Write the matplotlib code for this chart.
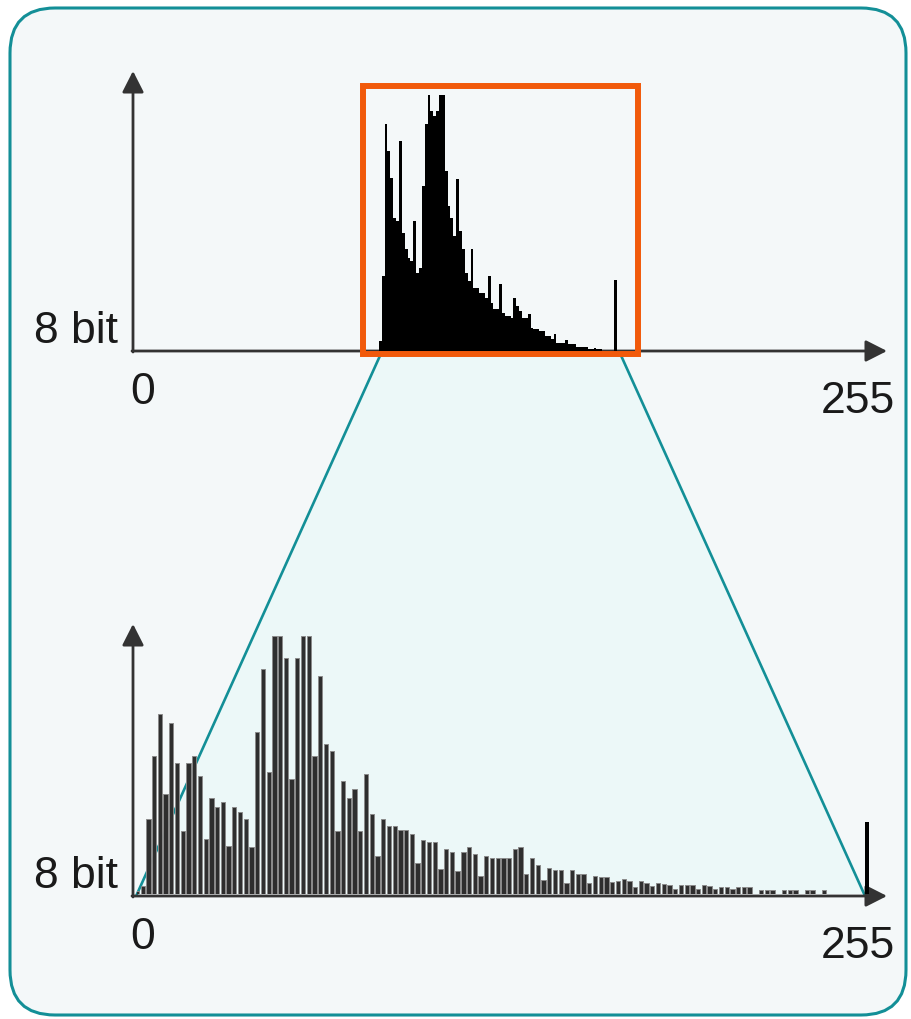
import numpy as np
import matplotlib
matplotlib.use("Agg")
import matplotlib.pyplot as plt
from matplotlib.patches import FancyBboxPatch, Rectangle, Polygon

plt.rcParams['font.family'] = ['Liberation Sans', 'DejaVu Sans']

# 8-bit histogram before stretching: counts for grey levels 85..167
top_start = 85
top_counts = [10, 75, 227, 200, 173, 133, 130, 210, 118, 102,
              93, 90, 130, 78, 83, 165, 227, 256, 240, 235,
              240, 256, 256, 180, 145, 133, 115, 172, 120, 102,
              78, 70, 102, 63, 63, 58, 58, 53, 75, 48,
              42, 42, 67, 38, 35, 35, 33, 53, 45, 40,
              33, 33, 37, 23, 22, 22, 20, 20, 15, 15,
              12, 17, 8, 8, 8, 11, 7, 7, 7, 4,
              4, 4, 4, 2, 2, 3, 2, 2, 0, 0,
              0, 0, 71]

# stretch range shown by the box / funnel
stretch_lo, stretch_hi = 85, 169
box_lo, box_hi = 79, 175

# stretched histogram: every second grey level 0, 2, ... 240, plus 255
bottom_counts = [3, 8, 75, 138, 180, 100, 171, 131, 63, 131,
                 138, 118, 55, 96, 87, 92, 48, 87, 82, 75,
                 47, 162, 225, 122, 258, 258, 236, 115, 236, 258,
                 258, 138, 218, 150, 143, 63, 113, 96, 105, 63,
                 120, 80, 38, 75, 68, 68, 64, 64, 60, 31,
                 54, 52, 52, 25, 45, 42, 23, 42, 47, 40,
                 18, 38, 36, 36, 36, 36, 45, 47, 20, 36,
                 29, 14, 26, 24, 24, 11, 24, 20, 20, 11,
                 18, 17, 17, 12, 13, 15, 13, 7, 13, 11,
                 8, 11, 10, 9, 5, 9, 9, 9, 5, 9,
                 8, 5, 7, 7, 5, 7, 7, 7, 0, 4,
                 4, 4, 0, 4, 4, 4, 0, 4, 4, 0,
                 4]
bottom_last = 72

W, H = 911, 1020
fig = plt.figure(figsize=(W / 100, H / 100), dpi=100)
fig.patch.set_facecolor('white')

bg = fig.add_axes([0, 0, 1, 1])
bg.set_xlim(0, W)
bg.set_ylim(H, 0)
bg.axis('off')

teal = '#138F97'
ink = '#333333'
txt = '#1a1a1a'

frame = FancyBboxPatch((10, 9), 896, 1007, boxstyle='round,pad=0,rounding_size=45',
                       facecolor='#F4F8F9', edgecolor=teal, lw=2.2, zorder=0)
bg.add_patch(frame)


def hist_axes(base_px, height_px):
    ax = fig.add_axes([137 / W, (H - base_px) / H, 730 / W, height_px / H])
    ax.set_xlim(0, 255)
    ax.set_ylim(0, height_px)
    ax.axis('off')
    ax.patch.set_alpha(0)
    return ax


ax1 = hist_axes(352, 280)
ax2 = hist_axes(895, 270)

# funnel from the stretch range down to the full range
def to_bg(ax, x, y):
    p = ax.transData.transform((x, y))
    return bg.transData.inverted().transform(p)

corners = [to_bg(ax1, stretch_lo, -4), to_bg(ax1, stretch_hi, -4),
           to_bg(ax2, 254, 0), to_bg(ax2, 0, 0)]
bg.add_patch(Polygon(corners, closed=True, facecolor='#ECF8F8', edgecolor='none', zorder=1))
for a, b in [(corners[0], corners[3]), (corners[1], corners[2])]:
    bg.plot([a[0], b[0]], [a[1], b[1]], color=teal, lw=1.9, zorder=2)

# top histogram
lv_top = np.arange(top_start, top_start + len(top_counts))
ax1.bar(lv_top, top_counts, width=1.0, color='black', linewidth=0, zorder=3)
ax1.add_patch(Rectangle((box_lo, -3), box_hi - box_lo, 268.5, fill=False,
                        edgecolor='#F15A0B', lw=4.3, clip_on=False, zorder=5))

# bottom histogram
lv_bot = np.arange(0, 2 * len(bottom_counts), 2)
ax2.bar(lv_bot, bottom_counts, width=1.5, color='#2e2e2e', edgecolor='#8a8a8a',
        linewidth=0.7, zorder=3)
bars = ax2.bar([255], [bottom_last], width=1.1, color='black', linewidth=0, zorder=3)
for b in bars:
    b.set_clip_on(False)

# axes with arrows and labels
for base, top in [(352, 72), (897, 625)]:
    ap = dict(arrowstyle='-|>,head_length=0.65,head_width=0.33', lw=2, color=ink,
              shrinkA=0, shrinkB=0, mutation_scale=20)
    bg.annotate('', xy=(133, top), xytext=(133, base + 1), arrowprops=ap, zorder=6)
    bg.annotate('', xy=(887, base), xytext=(132, base), arrowprops=ap, zorder=6)
    bg.text(118, base - 9, '8 bit', fontsize=32, color=txt, ha='right', va='baseline')
    bg.text(143, base + 52, '0', fontsize=32, color=txt, ha='center', va='baseline')
    bg.text(895, base + 61, '255', fontsize=32, color=txt, ha='right', va='baseline')

fig.savefig('out.png', dpi=100, facecolor=fig.get_facecolor())
